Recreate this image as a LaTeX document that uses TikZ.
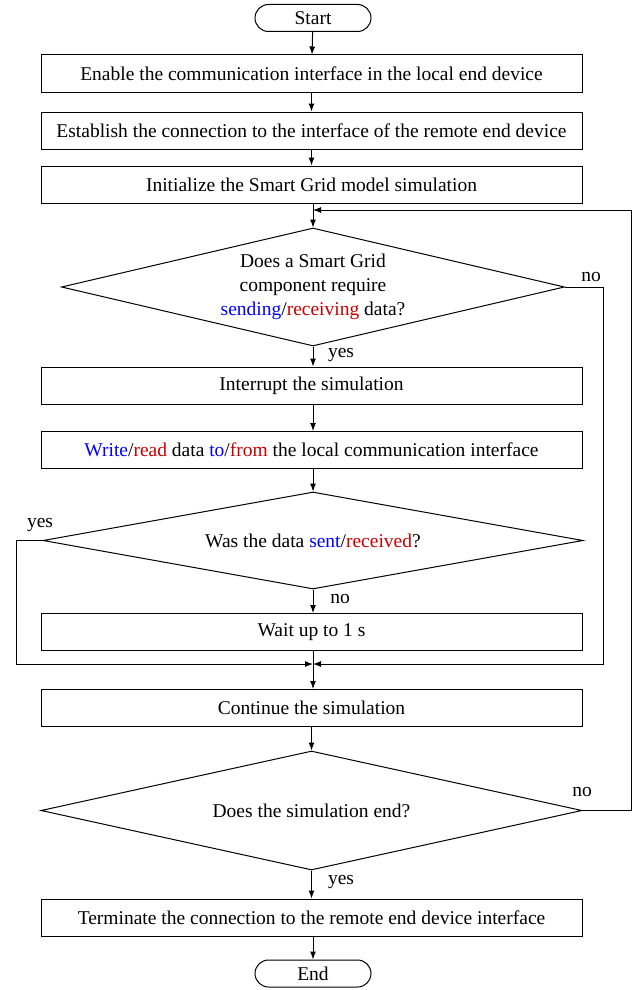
\documentclass[tikz,border=0pt]{standalone}
\usepackage{fontspec}
\setmainfont{Liberation Serif}
\usetikzlibrary{shapes.geometric,shapes.misc,arrows.meta}
\definecolor{sblue}{RGB}{0,0,255}
\definecolor{rred}{RGB}{200,0,0}
\begin{document}
\begin{tikzpicture}[x=1pt,y=-1pt,
  every node/.style={font=\fontsize{19.5}{24}\selectfont},
  line/.style={draw=black,line width=1pt},
  arr/.style={line,-{Latex[length=8pt,width=6pt]}},
  procbox/.style={draw,line width=1pt,minimum width=541pt,minimum height=37pt,inner sep=0pt},
  term/.style={draw,line width=1pt,rounded rectangle,minimum width=116pt,minimum height=27pt,inner sep=0pt},
  decision/.style={draw,line width=1pt,diamond,inner sep=0pt,align=center},
  lbl/.style={inner sep=0pt}]
\useasboundingbox (0,0) rectangle (641,990);
\node[term] (start) at (313,18) {Start};
\node[procbox] (b1) at (311.5,73.5) {Enable the communication interface in the local end device};
\node[procbox] (b2) at (311.5,130.5) {Establish the connection to the interface of the remote end device};
\node[procbox] (b3) at (311.5,184.5) {Initialize the Smart Grid model simulation};
\coordinate (k) at (313,210);
\node[decision,minimum width=503pt,minimum height=118pt,aspect=4.26] (d1) at (313,287) {Does a Smart Grid\\component require\\\textcolor{sblue}{sending}/\textcolor{rred}{receiving} data?};
\node[procbox] (b4) at (311.5,385.5) {Interrupt the simulation};
\node[procbox] (b5) at (311.5,450) {\textcolor{sblue}{Write}/\textcolor{rred}{read} data \textcolor{sblue}{to}/\textcolor{rred}{from} the local communication interface};
\node[decision,minimum width=540pt,minimum height=97pt,aspect=5.57] (d2) at (313,540.5) {Was the data \textcolor{sblue}{sent}/\textcolor{rred}{received}?};
\node[procbox] (b6) at (311.5,632) {Wait up to 1 s};
\coordinate (j) at (313,664);
\node[procbox] (b7) at (311.5,708) {Continue the simulation};
\node[decision,minimum width=541pt,minimum height=119pt,aspect=4.55] (d3) at (311.5,810.5) {Does the simulation end?};
\node[procbox] (b8) at (311.5,917.5) {Terminate the connection to the remote end device interface};
\node[term] (end) at (313,973.5) {End};

\draw[arr] (start) -- (b1);
\draw[arr] (b1) -- (b2);
\draw[arr] (b2) -- (b3);
\draw[arr] (b3.south -| k) -- (d1.north);
\draw[arr] (d1.south) -- (b4.north -| d1.south);
\draw[arr] (b4.south -| d1.south) -- (b5.north -| d1.south);
\draw[arr] (b5.south -| d1.south) -- (d2.north);
\draw[arr] (d2.south) -- (b6.north -| d2.south);
\draw[arr] (b6.south -| j) -- (b7.north -| j);
\draw[arr] (b7.south -| d3.north) -- (d3.north);
\draw[arr] (d3.south) -- (b8.north -| d3.south);
\draw[arr] (b8.south -| end) -- (end);

\draw[arr] (d1.east) -- (603,287) -- (603,664) -- (j);
\draw[arr] (d2.west) -- (16,540.5) -- (16,664) -- (j);
\draw[arr] (d3.east) -- (631,810.5) -- (631,210) -- (k);

\node[lbl] (n1) at (591,277) {no};
\node[lbl] (y1) at (341,355) {yes};
\node[lbl] (y2) at (40,525) {yes};
\node[lbl] (n2) at (340,599) {no};
\node[lbl] (n3) at (582,792) {no};
\node[lbl] (y3) at (341,882) {yes};
\end{tikzpicture}
\end{document}
